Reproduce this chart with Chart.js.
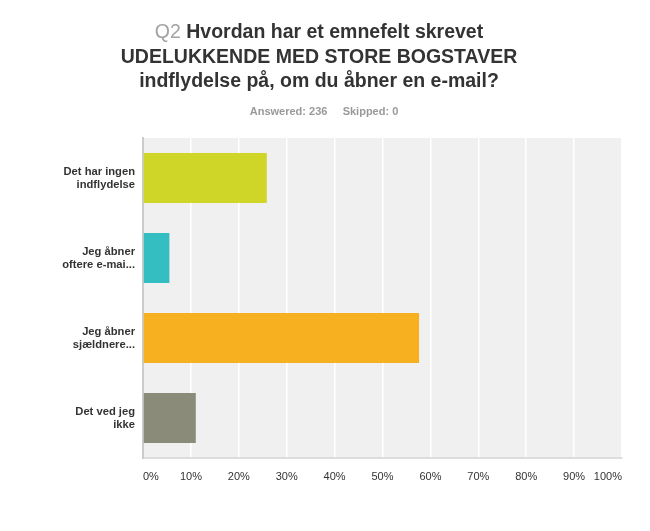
<!DOCTYPE html>
<html>
<head>
<meta charset="utf-8">
<script src="https://cdn.jsdelivr.net/npm/chart.js@4/dist/chart.umd.min.js"></script>
<style>
  html, body { margin: 0; padding: 0; background: #fff; }
  #wrap { width: 650px; height: 531px; position: relative; }
</style>
</head>
<body>
<div id="wrap"><canvas id="bar-chart"></canvas></div>
<script>
var answerLabels = [
    ['Det har ingen', 'indflydelse'],
    ['Jeg åbner', 'oftere e-mai...'],
    ['Jeg åbner', 'sjældnere...'],
    ['Det ved jeg', 'ikke']
];
var answerPercent = [25.85, 5.51, 57.63, 11.02];
var barColors = ['#d0d628', '#35bec1', '#f7b01f', '#8b8b7a'];
var titleNumber = 'Q2';
var titleLines = ['Hvordan har et emnefelt skrevet', 'UDELUKKENDE MED STORE BOGSTAVER', 'indflydelse på, om du åbner en e-mail?'];
var subtitleText = 'Answered: 236     Skipped: 0';

var fontFamily = '"Liberation Sans", Arial, Helvetica, sans-serif';

// grey plot background + header text
var surveyLook = {
    id: 'surveyLook',
    beforeDraw: function (chart) {
        var ctx = chart.ctx;
        var a = chart.chartArea;
        ctx.save();
        ctx.fillStyle = '#f0f0f0';
        ctx.fillRect(a.left, a.top, a.right - a.left, a.bottom - a.top);
        ctx.restore();
    },
    afterDraw: function (chart) {
        var ctx = chart.ctx;
        var cx = 319;
        var size = 19.5;
        ctx.save();
        ctx.textBaseline = 'alphabetic';
        ctx.font = 'bold ' + size + 'px ' + fontFamily;
        // first line: grey Q2 then dark text
        var tw = ctx.measureText(titleLines[0]).width;
        ctx.font = size + 'px ' + fontFamily;
        var qw = ctx.measureText(titleNumber + ' ').width;
        var x0 = cx - (qw + tw) / 2;
        ctx.textAlign = 'left';
        ctx.fillStyle = '#a3a3a3';
        ctx.fillText(titleNumber, x0, 38);
        ctx.font = 'bold ' + size + 'px ' + fontFamily;
        ctx.fillStyle = '#333333';
        ctx.fillText(titleLines[0], x0 + qw, 38);
        ctx.textAlign = 'center';
        ctx.fillText(titleLines[1], cx, 63);
        ctx.fillText(titleLines[2], cx, 87);
        ctx.font = 'bold 11px ' + fontFamily;
        ctx.fillStyle = '#999999';
        ctx.fillText(subtitleText, 324, 115);
        ctx.restore();
    }
};

var chart = new Chart(document.getElementById('bar-chart'), {
    type: 'bar',
    data: {
        labels: answerLabels,
        datasets: [{
            data: answerPercent,
            backgroundColor: barColors,
            barPercentage: 0.625,
            categoryPercentage: 1
        }]
    },
    options: {
        indexAxis: 'y',
        responsive: true,
        maintainAspectRatio: false,
        animation: false,
        layout: { padding: { top: 138, right: 28, bottom: 33, left: 0 } },
        plugins: {
            legend: { display: false },
            tooltip: { enabled: false }
        },
        scales: {
            x: {
                min: 0,
                max: 100,
                ticks: {
                    stepSize: 10,
                    align: 'inner',
                    padding: 12,
                    color: '#333333',
                    font: { family: fontFamily, size: 11 },
                    callback: function (v) { return v + '%'; }
                },
                grid: { color: '#ffffff', lineWidth: 1.5, drawTicks: false },
                border: { display: true, color: '#dddddd', width: 2 },
                afterFit: function (scale) { scale.height = 40; }
            },
            y: {
                ticks: {
                    padding: 8,
                    color: '#333333',
                    font: { family: fontFamily, size: 11.2, weight: 'bold', lineHeight: 1.15 }
                },
                grid: { display: false, drawTicks: false },
                border: { display: true, color: '#cccccc', width: 2 },
                afterFit: function (scale) { scale.width = 143; }
            }
        }
    },
    plugins: [surveyLook]
});
</script>
</body>
</html>
